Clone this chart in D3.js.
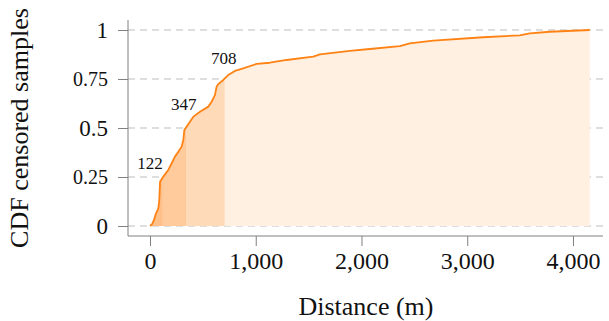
<!DOCTYPE html>
<html><head><meta charset="utf-8">
<script src="https://cdn.jsdelivr.net/npm/d3@7"></script>
<style>body{margin:0;background:#fff}svg{display:block}text{font-family:"Liberation Serif","DejaVu Serif",serif}</style>
</head><body>
<script>
// Data
const distance = [0, 20, 38, 57, 79, 88, 95, 126, 173, 205, 236, 268, 299, 315, 325, 347, 378, 410, 473, 551, 583, 614, 630, 646, 693, 740, 803, 882, 1008, 1134, 1292, 1544, 1607, 1890, 2079, 2363, 2457, 2678, 3150, 3497, 3592, 3781, 4159];
const cdf = [0, 0.01, 0.031, 0.065, 0.09, 0.133, 0.226, 0.252, 0.286, 0.32, 0.354, 0.379, 0.405, 0.439, 0.49, 0.507, 0.532, 0.558, 0.583, 0.609, 0.634, 0.668, 0.711, 0.724, 0.745, 0.770, 0.791, 0.804, 0.827, 0.833, 0.847, 0.864, 0.876, 0.894, 0.903, 0.918, 0.932, 0.946, 0.963, 0.973, 0.983, 0.991, 1.0];
const quartiles = [122, 347, 708];
const xTicks = [0, 1000, 2000, 3000, 4000];
const yTicks = [0, 0.25, 0.5, 0.75, 1];
const yTickLabels = ["0", "0.25", "0.5", "0.75", "1"];
const bandColors = ["#ffc08a", "#ffcb9c", "#ffdab9", "#fff0e2"];

const W = 609, H = 321;
const FONT = "Liberation Serif, DejaVu Serif, serif";
const svg = d3.select("body").append("svg").attr("width", W).attr("height", H)
  .attr("font-family", FONT);

const x = d3.scaleLinear().domain([-208, 4284]).range([128, 603]);
const y = d3.scaleLinear().domain([-0.051, 1.051]).range([236, 20]);

const pts = distance.map((d, i) => [d, cdf[i]]);
const interp = v => {
  for (let i = 1; i < pts.length; i++) {
    if (pts[i][0] >= v) {
      const [x0, y0] = pts[i - 1], [x1, y1] = pts[i];
      return y0 + (y1 - y0) * (v - x0) / (x1 - x0);
    }
  }
  return pts[pts.length - 1][1];
};

// gridlines
svg.append("g").selectAll("line").data(yTicks).join("line")
  .attr("x1", 128).attr("x2", 607)
  .attr("y1", d => y(d)).attr("y2", d => y(d))
  .attr("stroke", "#bdbdbd").attr("stroke-width", 1).attr("stroke-dasharray", "7,5");

// bands
const bounds = [distance[0], ...quartiles, distance[distance.length - 1]];
const area = d3.area().x(d => x(d[0])).y0(y(0)).y1(d => y(d[1]));
for (let b = 0; b < 4; b++) {
  const lo = bounds[b], hi = bounds[b + 1];
  const seg = [[lo, interp(lo)], ...pts.filter(p => p[0] > lo && p[0] < hi), [hi, interp(hi)]];
  svg.append("path").attr("d", area(seg)).attr("fill", bandColors[b]);
}

// curve
svg.append("path").datum(pts)
  .attr("d", d3.line().x(d => x(d[0])).y(d => y(d[1])))
  .attr("fill", "none").attr("stroke", "#ff8214").attr("stroke-width", 1.8)
  .attr("stroke-linejoin", "round");

// quartile labels
const labDx = [-13, -3, -1];
const labDy = [-8, -17, -14];
svg.append("g").selectAll("text").data(quartiles).join("text")
  .attr("x", (d, i) => x(d) + labDx[i])
  .attr("y", (d, i) => y(interp(d)) + labDy[i])
  .attr("text-anchor", "middle").attr("font-size", 17).attr("fill", "#111")
  .attr("font-family", FONT)
  .text(d => d);

// axes
const axisColor = "#808080";
const gx = svg.append("g").attr("transform", "translate(0,236)")
  .call(d3.axisBottom(x).tickValues(xTicks).tickSize(10).tickPadding(6)
    .tickFormat(d3.format(",")));
const gy = svg.append("g").attr("transform", "translate(128,0)")
  .call(d3.axisLeft(y).tickValues(yTicks).tickSize(10).tickPadding(10)
    .tickFormat((d, i) => yTickLabels[i]));
[gx, gy].forEach(g => {
  g.attr("font-family", FONT);
  g.select(".domain").attr("stroke", axisColor);
  g.selectAll(".tick line").attr("stroke", axisColor);
  g.selectAll("text").attr("fill", "#111").attr("font-family", FONT);
});
gx.selectAll("text").attr("font-size", 24);
gy.selectAll("text").attr("font-size", (d) => (d === 0.25 || d === 0.75) ? 20 : 23);
gx.select(".domain").attr("d", "M128,0H603");
gy.select(".domain").attr("d", "M0,20V236");

// axis titles
svg.append("text").attr("x", 366).attr("y", 315).attr("text-anchor", "middle")
  .attr("font-size", 26).attr("fill", "#111").attr("font-family", FONT).text("Distance (m)");
svg.append("text").attr("transform", "translate(28,128) rotate(-90)")
  .attr("text-anchor", "middle").attr("font-size", 26).attr("fill", "#111")
  .attr("font-family", FONT)
  .text("CDF censored samples");
</script>
</body></html>
